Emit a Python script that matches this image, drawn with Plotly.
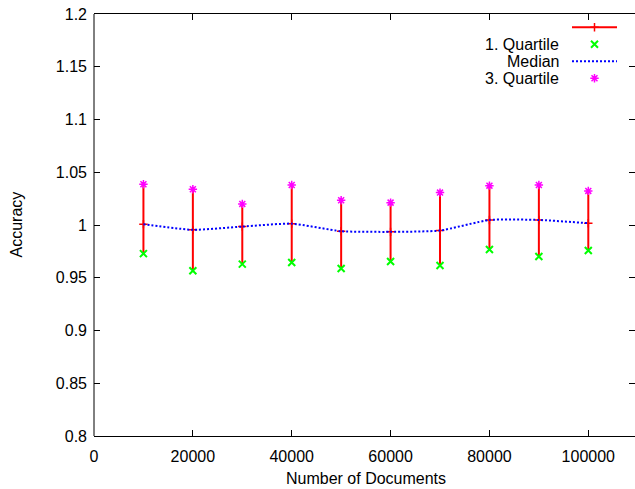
import plotly.graph_objects as go

# ---- data ----
docs = [10000, 20000, 30000, 40000, 50000, 60000, 70000, 80000, 90000, 100000]
q1 = [0.9729, 0.9566, 0.9629, 0.9644, 0.9587, 0.9654, 0.9616, 0.9767, 0.9701, 0.9758]
median = [1.0008, 0.9954, 0.9985, 1.0013, 0.9941, 0.9935, 0.9947, 1.0048, 1.0048, 1.0017]
q3 = [1.0386, 1.0339, 1.0200, 1.0379, 1.0235, 1.0212, 1.0307, 1.0373, 1.0379, 1.0323]
y_ticks = [0.8, 0.85, 0.9, 0.95, 1.0, 1.05, 1.1, 1.15, 1.2]
y_tick_labels = ["0.8", "0.85", "0.9", "0.95", "1", "1.05", "1.1", "1.15", "1.2"]
x_ticks = [0, 20000, 40000, 60000, 80000, 100000]
x_tick_labels = ["0", "20000", "40000", "60000", "80000", "100000"]
legend_labels = ["", "1. Quartile", "Median", "3. Quartile"]

RED = "#ff0000"
GREEN = "#00ff00"
BLUE = "#0000ff"
MAGENTA = "#ff00ff"
FONT = dict(family="Liberation Sans, Arial, Helvetica, sans-serif", size=16, color="black")

err_plus = [a - b for a, b in zip(q3, median)]
err_minus = [b - a for a, b in zip(q1, median)]

fig = go.Figure()

# error bars (Q1..Q3) with median point
fig.add_trace(go.Scatter(
    x=docs, y=median, mode="markers",
    marker=dict(symbol="cross-thin-open", size=6, color=RED, line=dict(color=RED, width=1.5)),
    error_y=dict(type="data", symmetric=False, array=err_plus, arrayminus=err_minus,
                 color=RED, thickness=2, width=0),
    showlegend=False, cliponaxis=False))

# 1st quartile
fig.add_trace(go.Scatter(
    x=docs, y=q1, mode="markers",
    marker=dict(symbol="x-thin-open", size=7, color=GREEN, line=dict(color=GREEN, width=2)),
    showlegend=False))

# median smooth line
fig.add_trace(go.Scatter(
    x=docs, y=median, mode="lines",
    line=dict(color=BLUE, width=2, dash="2px,2px", shape="spline", smoothing=0.5),
    showlegend=False))

# 3rd quartile
fig.add_trace(go.Scatter(
    x=docs, y=q3, mode="markers",
    marker=dict(symbol="asterisk-open", size=7, color=MAGENTA, line=dict(color=MAGENTA, width=1.5)),
    showlegend=False))

# ---- page geometry (page pixels) ----
W, H = 635, 489
L, R, T, B = 94, 635, 13.7, 436.3

# ---- manual gnuplot-style legend on an overlay pixel axis ----
leg_rows = [27, 44, 61, 78]
leg_text_x = 561
leg_line = [572, 617]
leg_mid = 594.5

fig.add_trace(go.Scatter(x=leg_line, y=[leg_rows[0]] * 2, mode="lines",
                         line=dict(color=RED, width=2), xaxis="x2", yaxis="y2",
                         showlegend=False, hoverinfo="skip"))
fig.add_trace(go.Scatter(x=[leg_mid], y=[leg_rows[0]], mode="markers",
                         marker=dict(symbol="cross-thin-open", size=6, color=RED,
                                     line=dict(color=RED, width=1.5)),
                         xaxis="x2", yaxis="y2", showlegend=False, hoverinfo="skip"))
fig.add_trace(go.Scatter(x=[leg_mid], y=[leg_rows[1]], mode="markers",
                         marker=dict(symbol="x-thin-open", size=7, color=GREEN,
                                     line=dict(color=GREEN, width=2)),
                         xaxis="x2", yaxis="y2", showlegend=False, hoverinfo="skip"))
fig.add_trace(go.Scatter(x=leg_line, y=[leg_rows[2]] * 2, mode="lines",
                         line=dict(color=BLUE, width=2, dash="2px,2px"),
                         xaxis="x2", yaxis="y2", showlegend=False, hoverinfo="skip"))
fig.add_trace(go.Scatter(x=[leg_mid], y=[leg_rows[3]], mode="markers",
                         marker=dict(symbol="asterisk-open", size=7, color=MAGENTA,
                                     line=dict(color=MAGENTA, width=1.5)),
                         xaxis="x2", yaxis="y2", showlegend=False, hoverinfo="skip"))

annotations = []
for lab, ry in zip(legend_labels, leg_rows):
    if lab:
        annotations.append(dict(x=leg_text_x, y=ry, xref="x2", yref="y2", text=lab,
                                showarrow=False, xanchor="right", yanchor="middle", font=FONT))

annotations.append(dict(x=(366 - L) / (R - L), y=(B - 479) / (B - T), xref="paper", yref="paper",
                        text="Number of Documents", showarrow=False,
                        xanchor="center", yanchor="middle", font=FONT))
annotations.append(dict(x=(15.5 - L) / (R - L), y=(B - 225) / (B - T), xref="paper", yref="paper",
                        text="Accuracy", showarrow=False, textangle=-90,
                        xanchor="center", yanchor="middle", font=FONT))

axis_common = dict(linecolor="black", linewidth=1, mirror="ticks",
                   ticks="inside", ticklen=6, tickwidth=1, tickcolor="black",
                   showgrid=False, zeroline=False, tickfont=FONT,
                   ticklabeloverflow="allow")

fig.update_layout(
    width=W, height=H,
    margin=dict(l=L, r=W - R, t=T, b=H - B, pad=0),
    paper_bgcolor="white", plot_bgcolor="white",
    font=FONT,
    showlegend=False,
    xaxis=dict(range=[0, 100000 * (R - L) / (588.3 - L)], tickvals=x_ticks, ticktext=x_tick_labels,
               ticklabelstandoff=6, showline=True, **axis_common),
    yaxis=dict(range=[0.8, 1.2], tickvals=y_ticks, ticktext=y_tick_labels,
               ticklabelstandoff=6, showline=False, **axis_common),
    xaxis2=dict(range=[L, R], overlaying="x", visible=False, fixedrange=True),
    yaxis2=dict(range=[B, T], overlaying="y", visible=False, fixedrange=True),
    annotations=annotations,
    shapes=[dict(type="line", xref="paper", yref="paper", x0=0, x1=0, y0=0, y1=1,
                 line=dict(color="black", width=1), layer="above")],
)

# remove the default page margin so the 635x489 figure fills the window exactly
fig.write_html(
    "out.html",
    config={"displayModeBar": False},
    post_script="document.body.style.margin='0';document.body.style.overflow='hidden';",
)
